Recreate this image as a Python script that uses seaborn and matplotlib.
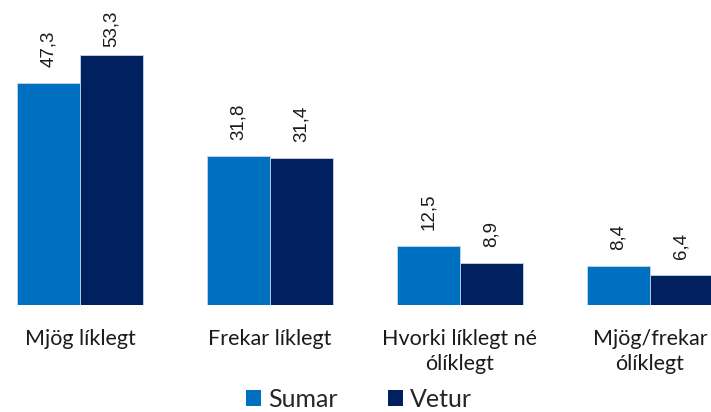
import matplotlib
matplotlib.use("Agg")
import matplotlib.pyplot as plt
import pandas as pd
import seaborn as sns
from matplotlib.patches import Patch

categories = ["Mjög líklegt", "Frekar líklegt", "Hvorki líklegt né\nólíklegt", "Mjög/frekar\nólíklegt"]
series = ["Sumar", "Vetur"]
sumar = [47.3, 31.8, 12.5, 8.4]
vetur = [53.3, 31.4, 8.9, 6.4]
colors = ["#0070C0", "#002060"]

df = pd.DataFrame({
    "flokkur": categories * 2,
    "tímabil": [series[0]] * 4 + [series[1]] * 4,
    "gildi": sumar + vetur,
})

sns.set_theme(style="white")
plt.rcParams["font.family"] = ["Lato", "DejaVu Sans"]

fig = plt.figure(figsize=(7.11, 4.12), dpi=100)
# plot area is wider than the figure; the right edge is cut like the original
ax = fig.add_axes([-15 / 711, 107 / 412, 760 / 711, 281.5 / 412])
sns.barplot(data=df, x="flokkur", y="gildi", hue="tímabil", palette=colors,
            saturation=1, width=0.663, edgecolor="#c9d6ea", linewidth=0.6, ax=ax)
ax.set_xlim(-0.5, 3.5)
ax.set_ylim(0, 60)
ax.set_xlabel("")
ax.set_ylabel("")
ax.set_yticks([])
ax.tick_params(axis="x", length=0, pad=17, labelsize=15.5, colors="#1a1a1a")
for lbl in ax.get_xticklabels():
    lbl.set_linespacing(1.35)
sns.despine(ax=ax, left=True, bottom=True)

# value labels; the tallest one sits closer to its bar (it hits the top of the plot area)
top = max(sumar + vetur)
for cont in ax.containers:
    for bar, v in zip(cont, cont.datavalues):
        pad = 6 if v == top else 11.5
        ax.annotate(f"{v:.1f}".replace(".", ","),
                    (bar.get_x() + bar.get_width() / 2, bar.get_height()),
                    xytext=(0, pad), textcoords="offset points",
                    rotation=90, ha="center", va="bottom", fontsize=13.5,
                    family="Liberation Sans", color="#1a1a1a")

ax.get_legend().remove()
handles = [Patch(facecolor=c, edgecolor="none") for c in colors]
fig.legend(handles, series, loc="lower center", bbox_to_anchor=(0.505, -0.052),
           ncol=2, frameon=False, fontsize=18, handlelength=0.6, handleheight=0.6,
           handletextpad=0.3, columnspacing=2.0)

fig.savefig("out.png", dpi=100)
